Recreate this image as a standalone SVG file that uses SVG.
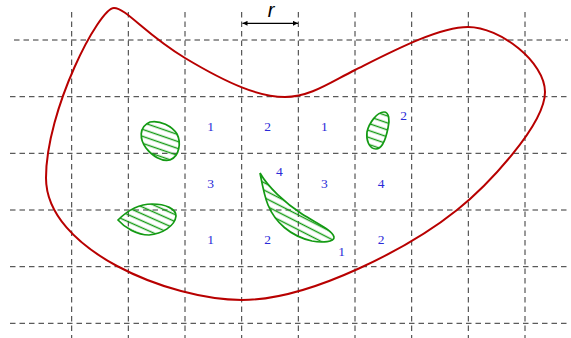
<svg xmlns="http://www.w3.org/2000/svg" width="571" height="338" viewBox="0 0 571 338">
<style>
.grid{stroke:#333;stroke-width:1;stroke-dasharray:5.5 4;fill:none}
.bound{stroke:#b80000;stroke-width:2;fill:none}
.blob{stroke:#139a13;stroke-width:1.7}
.lbl{font-family:"Liberation Serif","Times New Roman",serif;font-size:13.5px;fill:#2a2ad8;text-anchor:middle}
.r{font-family:"Liberation Sans",Arial,sans-serif;font-size:20px;font-style:italic;fill:#000;text-anchor:middle}
</style>
<defs>
<marker id="ah" viewBox="0 0 10 10" refX="10" refY="5" markerWidth="7" markerHeight="5" markerUnits="userSpaceOnUse" orient="auto-start-reverse">
<path d="M0,0 L10,5 L0,10 Z" fill="#000"/>
</marker>
<pattern id="h1" patternUnits="userSpaceOnUse" width="30" height="6.6" patternTransform="rotate(19)"><line x1="0" y1="3.3" x2="30" y2="3.3" stroke="#139a13" stroke-width="1.4"/></pattern>
<pattern id="h2" patternUnits="userSpaceOnUse" width="30" height="6.4" patternTransform="rotate(24)"><line x1="0" y1="3.2" x2="30" y2="3.2" stroke="#139a13" stroke-width="1.4"/></pattern>
<pattern id="h3" patternUnits="userSpaceOnUse" width="30" height="6.6" patternTransform="rotate(19)"><line x1="0" y1="3.3" x2="30" y2="3.3" stroke="#139a13" stroke-width="1.4"/></pattern>
<pattern id="h4" patternUnits="userSpaceOnUse" width="30" height="6.6" patternTransform="rotate(27)"><line x1="0" y1="3.3" x2="30" y2="3.3" stroke="#139a13" stroke-width="1.4"/></pattern>
</defs>
<g id="grid">
<line class="grid" x1="71.7" y1="12" x2="71.7" y2="338"/>
<line class="grid" x1="128.3" y1="12" x2="128.3" y2="338"/>
<line class="grid" x1="185" y1="12" x2="185" y2="338"/>
<line class="grid" x1="241.7" y1="12" x2="241.7" y2="338"/>
<line class="grid" x1="298.3" y1="12" x2="298.3" y2="338"/>
<line class="grid" x1="355" y1="12" x2="355" y2="338"/>
<line class="grid" x1="411.7" y1="12" x2="411.7" y2="338"/>
<line class="grid" x1="468.3" y1="12" x2="468.3" y2="338"/>
<line class="grid" x1="525" y1="12" x2="525" y2="338"/>
<line class="grid" x1="14" y1="40" x2="568" y2="40"/>
<line class="grid" x1="10" y1="96.7" x2="568" y2="96.7"/>
<line class="grid" x1="10" y1="153.3" x2="568" y2="153.3"/>
<line class="grid" x1="10" y1="210" x2="568" y2="210"/>
<line class="grid" x1="10" y1="266.7" x2="568" y2="266.7"/>
<line class="grid" x1="10" y1="323.3" x2="568" y2="323.3"/>
</g>
<g id="boundary">
<path class="bound" d="M114,8 C126,8 145,34 185,58 C230,85 260,97 285,97 C310,97 330,82.5 355,70 C390,52.5 438,27 468,27 C500,27 545,62 545,92 C545,125 487,186 457,210 C412,246 312,300 242,300 C170,300 46,250 46,178 C46,110 99,8 114,8 Z"/>
</g>
<g id="blob1">
<path class="blob" fill="url(#h1)" d="M150,122 C160,120 172,126 177,134 C181,142 180,156 170,160 C162,162 152,156 146,148 C140,140 138,127 150,122 Z"/>
</g>
<g id="blob2">
<path class="blob" fill="url(#h2)" d="M118,220 C128,210 140,204 152,204 C166,204 176,209 176,216 C175,226 162,234 149,235 C137,235 125,228 118,220 Z"/>
</g>
<g id="blob3">
<path class="blob" fill="url(#h3)" d="M384,112 C389,112 390,120 388,128 C386,138 382,149 376,149 C369,149 366,140 367,132 C369,123 377,112 384,112 Z"/>
</g>
<g id="blob4">
<path class="blob" fill="url(#h4)" d="M260,173 C268,187 285,203 302,214 C318,224 332,230 334,237 C335,242 322,243 312,241 C290,236 275,222 268,205 C264,195 262,183 260,173 Z"/>
</g>
<g id="connectors">
<line x1="242.5" y1="23.3" x2="298" y2="23.3" stroke="#000" stroke-width="1.2" marker-start="url(#ah)" marker-end="url(#ah)"/>
</g>
<g id="labels">
<text class="r" x="271" y="17">r</text>
<text class="lbl" x="210.7" y="131">1</text>
<text class="lbl" x="267.7" y="131">2</text>
<text class="lbl" x="324.3" y="131">1</text>
<text class="lbl" x="403.7" y="120">2</text>
<text class="lbl" x="210.7" y="187.5">3</text>
<text class="lbl" x="279.3" y="175.5">4</text>
<text class="lbl" x="324.3" y="187.5">3</text>
<text class="lbl" x="381" y="187.5">4</text>
<text class="lbl" x="210.7" y="244">1</text>
<text class="lbl" x="267.7" y="244">2</text>
<text class="lbl" x="341.7" y="256">1</text>
<text class="lbl" x="381" y="244">2</text>
</g>
</svg>
